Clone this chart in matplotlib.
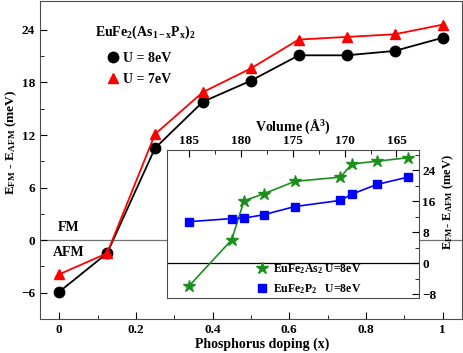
import numpy as np
import matplotlib
matplotlib.use("Agg")
import matplotlib.pyplot as plt

plt.rcParams['font.family'] = ['Liberation Serif', 'DejaVu Serif']
plt.rcParams['font.weight'] = 'bold'
plt.rcParams['axes.labelweight'] = 'bold'
plt.rcParams['mathtext.fontset'] = 'custom'
plt.rcParams['mathtext.rm'] = 'Liberation Serif:bold'
plt.rcParams['mathtext.bf'] = 'Liberation Serif:bold'
plt.rcParams['mathtext.it'] = 'Liberation Serif:bold'
plt.rcParams['mathtext.default'] = 'rm'

# main panel: energy difference vs P doping
doping = [0, 0.125, 0.25, 0.375, 0.5, 0.625, 0.75, 0.875, 1.0]
e_u8 = [-5.9, -1.5, 10.5, 15.8, 18.2, 21.1, 21.1, 21.6, 23.1]
e_u7 = [-3.9, -1.5, 12.1, 16.9, 19.6, 22.9, 23.2, 23.5, 24.6]

# inset: energy difference vs volume
vol = [185.0, 180.9, 179.7, 177.8, 174.8, 170.4, 169.3, 166.9, 163.9]
e_as = [-5.9, 6.0, 16.1, 17.9, 21.1, 22.2, 25.6, 26.3, 27.2]
e_p = [10.7, 11.5, 11.6, 12.5, 14.6, 16.2, 17.8, 20.3, 22.2]

W, H = 463, 353
fig = plt.figure(figsize=(W / 100, H / 100), dpi=100)
ax = fig.add_axes([40/W, 1 - 319/H, 421.7/W, 318/H])

ax.axhline(0, color='0.45', lw=0.9, zorder=0)
ax.plot(doping, e_u8, '-o', color='black', ms=7.5, lw=1.3, label='U = 8eV')
ax.plot(doping, e_u7, '-^', color='red', ms=7.5, lw=1.3, label='U = 7eV')

ax.set_xlim(-0.05, 1.05)
ax.set_ylim(-9, 27.3)
ax.set_xticks([0, 0.2, 0.4, 0.6, 0.8, 1.0])
ax.set_xticklabels(['0', '0.2', '0.4', '0.6', '0.8', '1'])
ax.set_xticks(np.arange(0.1, 1.0, 0.2), minor=True)
ax.set_yticks([-6, 0, 6, 12, 18, 24])
ax.set_yticks(np.arange(-9, 27, 3), minor=True)
ax.tick_params(which='both', direction='in', labelsize=9.5, top=False, right=False)
ax.tick_params(which='major', length=5)
ax.tick_params(which='minor', length=3)
for s in ax.spines.values():
    s.set_color('0.3')
ax.set_xlabel('Phosphorus doping (x)', fontsize=10)
ax.xaxis.set_label_coords((262.5 - 40) / 421.7, -(338 - 319) / 318)
ax.set_ylabel('E$_{FM}$ - E$_{AFM}$ (meV)', fontsize=9.5)
ax.yaxis.set_label_coords(-(40 - 19) / 421.7, (319 - 142) / 318)

ax.text(0.024, 1.5, 'FM', fontsize=10, ha='center', va='center')
ax.text(0.024, -1.45, 'AFM', fontsize=10, ha='center', va='center')

ax.text(95/W, 1 - 32/H, 'EuFe$_2$(As$_{1-x}$P$_x$)$_2$', fontsize=10,
        ha='left', va='center', transform=fig.transFigure)
leg = ax.legend(loc='upper left', bbox_to_anchor=(107.5/W, 1 - 52/H),
                bbox_transform=fig.transFigure, frameon=False, fontsize=10,
                handlelength=0.8, handletextpad=0.35, labelspacing=0.55,
                borderpad=0, borderaxespad=0)
for h in leg.legend_handles:
    h.set_linestyle('none')

# inset
ins = fig.add_axes([167.3/W, 1 - 298/H, 252/W, 148/H])
ins.axhline(0, color='black', lw=0.9, zorder=0)
ins.plot(vol, e_as, '-*', color='#1a8f1a', ms=9, lw=1.2, label='EuFe$_2$As$_2$ U=8eV')
ins.plot(vol, e_p, '-s', color='#0000ff', ms=6, lw=1.2, label='EuFe$_2$P$_2$   U=8eV')
ins.set_xlim(187.1, 162.8)
ins.set_ylim(-9, 29.2)
ins.xaxis.tick_top()
ins.xaxis.set_label_position('top')
ins.yaxis.tick_right()
ins.yaxis.set_label_position('right')
ins.set_xticks([185, 180, 175, 170, 165])
ins.set_xticks([182.5, 177.5, 172.5, 167.5], minor=True)
ins.set_yticks([-8, 0, 8, 16, 24])
ins.set_yticks([-4, 4, 12, 20, 28], minor=True)
ins.tick_params(which='both', direction='in', labelsize=9.5, pad=2)
ins.tick_params(which='major', length=5)
ins.tick_params(which='minor', length=3)
for s in ins.spines.values():
    s.set_color('0.3')
ins.set_xlabel('Volume (Å$^3$)', fontsize=10)
ins.xaxis.set_label_coords(0.5, 1 + (150 - 131) / 148)
ins.set_ylabel('E$_{FM}$- E$_{AFM}$ (meV)', fontsize=9)
ins.yaxis.set_label_coords(1 + (441 - 419.3) / 252, (298 - 202) / 148)
lg = ins.legend(loc='upper left', bbox_to_anchor=(256/W, 1 - 262/H),
                bbox_transform=fig.transFigure, frameon=False, fontsize=8.5,
                handlelength=1.0, handletextpad=0.4, labelspacing=0.5,
                borderpad=0, borderaxespad=0)
for h in lg.legend_handles:
    h.set_linestyle('none')

fig.savefig('out.png', dpi=100)
